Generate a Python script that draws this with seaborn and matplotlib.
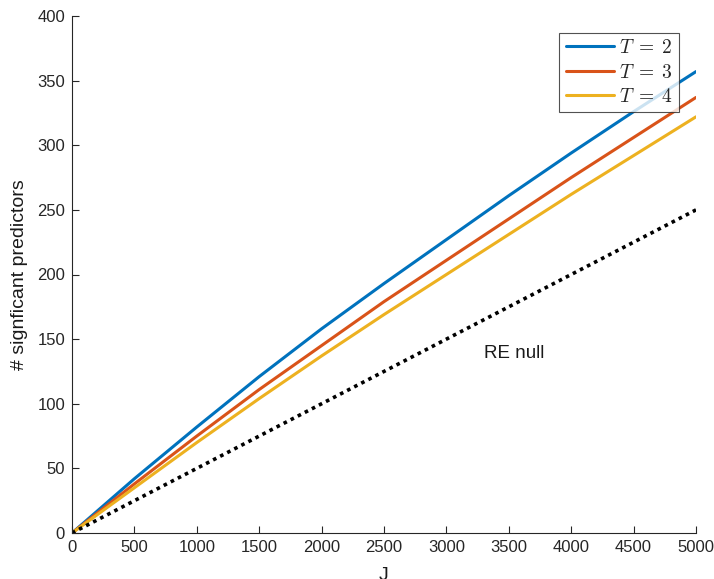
import numpy as np
import pandas as pd
import matplotlib
matplotlib.use("Agg")
import matplotlib.pyplot as plt
import seaborn as sns

J = [0, 500, 1000, 1500, 2000, 2500, 3000, 3500, 4000, 4500, 5000]
T2 = [0, 42, 82, 121, 158, 193, 227, 261, 294, 326, 357]
T3 = [0, 38, 75, 111, 145, 179, 211, 243, 275, 306, 337]
T4 = [0, 35, 70, 104, 137, 169, 200, 231, 262, 292, 322]
null_J = [0, 5000]
null_y = [0, 250]
labels = [r"$T \;=\; 2$", r"$T \;=\; 3$", r"$T \;=\; 4$"]
colors = ["#0072BD", "#D95319", "#EDB120"]

sns.set_style("ticks")
plt.rcParams["font.family"] = ["Liberation Sans", "DejaVu Sans"]
plt.rcParams["mathtext.fontset"] = "cm"

df = pd.DataFrame({
    "J": J * 3,
    "val": T2 + T3 + T4,
    "series": [labels[0]] * len(J) + [labels[1]] * len(J) + [labels[2]] * len(J),
})

fig = plt.figure(figsize=(7.14, 5.79), dpi=100)
ax = fig.add_axes([72 / 714, 1 - 533 / 579, (696 - 72) / 714, (533 - 16) / 579])

sns.lineplot(data=df, x="J", y="val", hue="series", palette=colors,
             linewidth=2.2, ax=ax, legend=True)
ax.plot(null_J, null_y, color="black", linestyle=(0, (1, 1.2)), linewidth=2.6)

ax.text(3300, 139, "RE null", fontsize=13.5, ha="left", va="center", color="#1a1a1a")

ax.set_xlim(0, 5000)
ax.set_ylim(0, 400)
ax.set_xticks(range(0, 5001, 500))
ax.set_yticks(range(0, 401, 50))
ax.tick_params(direction="in", length=5, width=0.8, labelsize=12, pad=5,
               colors="#262626")
for s in ["top", "right"]:
    ax.spines[s].set_visible(False)
for s in ["left", "bottom"]:
    ax.spines[s].set_color("#262626")
    ax.spines[s].set_linewidth(0.8)

ax.set_xlabel("J", fontsize=14, color="#1a1a1a")
ax.xaxis.set_label_coords(0.5, -0.066)
ax.set_ylabel("# signficant predictors", fontsize=14, color="#1a1a1a")
ax.yaxis.set_label_coords(-0.07, 0.5)

leg = ax.legend(loc="upper right", bbox_to_anchor=(0.973, 0.967), fontsize=14,
                frameon=True, fancybox=False, edgecolor="#262626",
                handlelength=2.5, handletextpad=0.25, borderpad=0.32,
                labelspacing=0.33, borderaxespad=0.0)
leg.get_frame().set_linewidth(0.8)
leg.set_title(None)

fig.savefig("out.png", dpi=100)
